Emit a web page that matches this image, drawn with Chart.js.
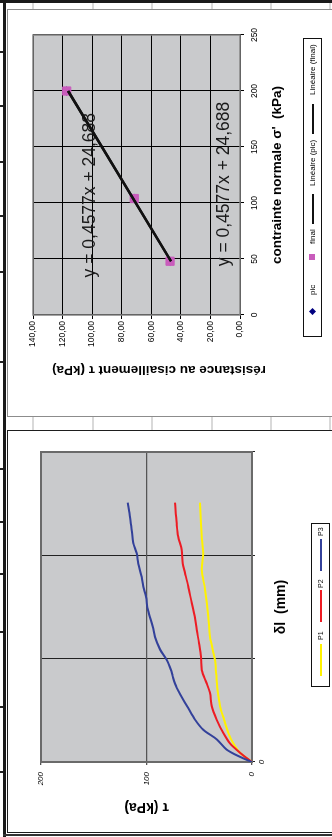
<!DOCTYPE html>
<html><head><meta charset="utf-8">
<script src="https://cdn.jsdelivr.net/npm/chart.js@4.4.1/dist/chart.umd.min.js"></script>
<style>
html,body{margin:0;padding:0;background:#fff;width:332px;height:837px;overflow:hidden;}
#rot{position:absolute;left:0;top:0;width:837px;height:332px;transform-origin:0 0;transform:translateY(837px) rotate(-90deg);font-family:"Liberation Sans",Arial,sans-serif;color:#000;}
.abs{position:absolute;box-sizing:border-box;}
.lg{position:absolute;white-space:nowrap;line-height:1;}
</style></head>
<body>
<div id="rot">
  <div class="abs" style="left:0;top:3px;width:837px;height:3px;background:#1a1a1a"></div>
  <div class="abs" style="left:834px;top:0;width:3px;height:332px;background:#1a1a1a"></div>
  <div class="abs" style="left:1px;top:3px;width:2px;height:332px;background:#333"></div>
  <div id="deco"></div>

  <div class="abs" style="left:4px;top:7px;width:403px;height:340px;border:1.5px solid #1e1e1e;background:#fff"></div>
  <canvas id="c2" width="403" height="325" style="position:absolute;left:4px;top:7px;"></canvas>

  <div class="abs" style="left:420px;top:7px;width:408px;height:340px;border:1.5px solid #8c8c8c;background:#fff"></div>
  <canvas id="c1" width="408" height="325" style="position:absolute;left:420px;top:7px;"></canvas>

  <div class="abs" id="leg1" style="left:500px;top:303px;width:299px;height:19px;border:1px solid #111;background:#fff;font-size:8px;">
    <div class="lg" style="left:22px;top:6px;width:5px;height:5px;background:#000080;transform:rotate(45deg)"></div>
    <div class="lg" style="left:41px;top:5px;">pic</div>
    <div class="lg" style="left:76px;top:5px;width:6px;height:6px;background:#c95cbc"></div>
    <div class="lg" style="left:92px;top:5px;">final</div>
    <div class="lg" style="left:112px;top:8px;width:30px;height:2px;background:#111"></div>
    <div class="lg" style="left:150px;top:5px;">Linéaire (pic)</div>
    <div class="lg" style="left:202px;top:8px;width:30px;height:2px;background:#111"></div>
    <div class="lg" style="left:241px;top:5px;">Linéaire (final)</div>
  </div>

  <div class="abs" id="leg2" style="left:150px;top:311px;width:164px;height:19px;border:1px solid #111;background:#fff;font-size:7px;">
    <div class="lg" style="left:10px;top:8px;width:32px;height:2px;background:#fff200"></div>
    <div class="lg" style="left:46px;top:5px;">P1</div>
    <div class="lg" style="left:64px;top:8px;width:32px;height:2px;background:#ed1c24"></div>
    <div class="lg" style="left:98px;top:5px;">P2</div>
    <div class="lg" style="left:115px;top:8px;width:32px;height:2px;background:#33419a"></div>
    <div class="lg" style="left:150px;top:5px;">P3</div>
  </div>
</div>
<script>
// ---------- DATA: chart 1 (shear strength vs normal stress) ----------
const sigmaPic   = [48, 104, 200];
const tauPic     = [47.3, 71.5, 117.2];
const sigmaFinal = [48, 104, 200];
const tauFinal   = [47.3, 71.5, 117.2];
const trendSigma    = [48, 200];
const trendTauPic   = [46.7, 116.2];
const trendTauFinal = [46.7, 116.2];
const equationPic   = 'y = 0,4577x + 24,688';
const equationFinal = 'y = 0,4577x + 24,688';
const tauTicks1  = ['0,00','20,00','40,00','60,00','80,00','100,00','120,00','140,00'];
const sigmaTicks = ['0','50','100','150','200','250'];

// ---------- DATA: chart 2 (shear stress vs displacement) ----------
const dlP1  = [0, 0.09, 0.18, 0.28, 0.41, 0.54, 0.72, 0.85, 0.99, 1.21, 1.41, 1.67, 1.86, 2.02, 2.15, 2.30, 2.51];
const tauP1 = [0, 11.4, 17.7, 22.4, 26.5, 30.3, 33.0, 34.0, 35.1, 39.8, 41.4, 44.5, 47.7, 46.2, 47.5, 48.3, 49.3];
const dlP2  = [0, 0.09, 0.18, 0.28, 0.41, 0.54, 0.67, 0.76, 0.89, 1.02, 1.15, 1.28, 1.41, 1.54, 1.70, 1.83, 1.92, 2.05, 2.18, 2.31, 2.51];
const tauP2 = [0, 11.4, 20.9, 27.2, 33.5, 38.2, 39.8, 42.9, 47.7, 48.3, 50.2, 52.4, 54.3, 57.2, 60.4, 63.5, 65.7, 66.6, 69.9, 71.4, 73.0];
const dlP3  = [0, 0.05, 0.12, 0.22, 0.31, 0.41, 0.52, 0.63, 0.72, 0.83, 0.89, 0.99, 1.09, 1.21, 1.31, 1.47, 1.60, 1.70, 1.79, 1.92, 2.02, 2.12, 2.24, 2.37, 2.51];
const tauP3 = [0, 11.4, 24.0, 33.5, 46.0, 54.0, 60.4, 66.6, 71.4, 75.2, 76.8, 80.9, 87.2, 91.9, 94.1, 98.6, 100.5, 103.0, 104.5, 107.8, 109.3, 112.5, 114.0, 115.6, 117.8];
const tauTicks2 = ['0','100','200'];
const dlTicks   = ['0','','',''];

// ---------- helpers ----------
const pts = (xs, ys) => xs.map((x, i) => ({x, y: ys[i]}));
Chart.defaults.font.family = '"Liberation Sans", Arial, sans-serif';
Chart.defaults.color = '#000';

// decorative page frame (document cell lines)
(function(){
  const deco = document.getElementById('deco');
  const ticks = [784,730,674,620,564,474,367,314,262,204,129,64];
  ticks.forEach(x => { const d = document.createElement('div'); d.className='abs';
    d.style.cssText += `left:${x}px;top:0;width:1.5px;height:3px;background:#222`; deco.appendChild(d); });
  [33,93,152,212,271,330].forEach(y => {
    [[407,13],[828,6]].forEach(([l,w]) => { const d = document.createElement('div'); d.className='abs';
      d.style.cssText += `left:${l}px;top:${y-1}px;width:${w}px;height:2px;background:#d9d9d9`; deco.appendChild(d); });
  });
})();

const framePlugin = {
  id: 'plotFrame',
  beforeDraw(chart, args, opts) {
    const {ctx, chartArea: a} = chart;
    ctx.save(); ctx.fillStyle = opts.bg; ctx.fillRect(a.left, a.top, a.width, a.height); ctx.restore();
  },
  beforeDatasetsDraw(chart, args, opts) {
    const {ctx, chartArea: a} = chart;
    ctx.save(); ctx.strokeStyle = opts.color; ctx.lineWidth = opts.width;
    ctx.strokeRect(a.left, a.top, a.width, a.height); ctx.restore();
  }
};

const eqLabels  = [equationPic, equationFinal];
const eqAnchors = [{x: 107, y: 101.5}, {x: 117, y: 11}];
const equationPlugin = {
  id: 'equations',
  beforeDatasetsDraw(chart) {
    const {ctx, scales: {x, y}} = chart;
    ctx.save();
    ctx.font = '17.5px "Liberation Sans", Arial, sans-serif';
    ctx.fillStyle = '#1a1a1a'; ctx.textAlign = 'center'; ctx.textBaseline = 'middle';
    eqLabels.forEach((t, i) => ctx.fillText(t, x.getPixelForValue(eqAnchors[i].x), y.getPixelForValue(eqAnchors[i].y)));
    ctx.restore();
  }
};

// ---------- chart 1 ----------
new Chart(document.getElementById('c1'), {
  type: 'scatter',
  data: { datasets: [
    { label: 'pic', data: pts(sigmaPic, tauPic), pointStyle: 'rectRot', pointRadius: 4,
      backgroundColor: '#000080', borderColor: '#000080', order: 3 },
    { label: 'final', data: pts(sigmaFinal, tauFinal), pointStyle: 'rect', pointRadius: 5.8,
      backgroundColor: '#c95cbc', borderColor: '#c95cbc', order: 2 },
    { label: 'Linéaire (pic)', data: pts(trendSigma, trendTauPic), showLine: true, pointRadius: 0,
      borderColor: '#111', borderWidth: 2.5, order: 1 },
    { label: 'Linéaire (final)', data: pts(trendSigma, trendTauFinal), showLine: true, pointRadius: 0,
      borderColor: '#111', borderWidth: 2.5, order: 0 }
  ]},
  options: {
    responsive: false, animation: false, devicePixelRatio: 1, events: [],
    layout: { padding: { left: 39, right: 26, top: 26, bottom: 47 } },
    plugins: { legend: { display: false }, tooltip: { enabled: false },
      plotFrame: { bg: '#c9cacc', color: '#858585', width: 1.5 } },
    scales: {
      x: { type: 'linear', min: 0, max: 250,
        afterFit: s => { s.height = 45; },
        ticks: { stepSize: 50, padding: 6, font: { size: 8.5 }, color: '#000', maxRotation: 0,
          callback: (v, i) => sigmaTicks[i] },
        grid: { color: '#000', lineWidth: 1, tickLength: 4 },
        border: { display: false },
        title: { display: true, text: "contrainte normale σ'  (kPa)", padding: 0,
          font: { size: 13.5, weight: 'bold' }, color: '#000' } },
      y: { type: 'linear', min: 0, max: 140,
        afterFit: s => { s.width = 63; },
        ticks: { stepSize: 20, padding: 2, font: { size: 8.5 }, color: '#000',
          callback: (v, i) => tauTicks1[i] },
        grid: { color: '#000', lineWidth: 1, tickLength: 4 },
        border: { display: false },
        title: { display: true, text: 'résistance au cisaillement τ (kPa)\u00A0\u00A0\u00A0\u00A0\u00A0\u00A0\u00A0\u00A0\u00A0\u00A0\u00A0\u00A0', padding: 0,
          font: { size: 13.5, weight: 'bold' }, color: '#000' } }
    }
  },
  plugins: [framePlugin, equationPlugin]
});

// ---------- chart 2 ----------
new Chart(document.getElementById('c2'), {
  type: 'scatter',
  data: { datasets: [
    { label: 'P1', data: pts(dlP1, tauP1), showLine: true, pointRadius: 0, borderColor: '#fff200',
      borderWidth: 2, tension: 0.3, order: 2 },
    { label: 'P2', data: pts(dlP2, tauP2), showLine: true, pointRadius: 0, borderColor: '#ed1c24',
      borderWidth: 2, tension: 0.3, order: 1 },
    { label: 'P3', data: pts(dlP3, tauP3), showLine: true, pointRadius: 0, borderColor: '#33419a',
      borderWidth: 2, tension: 0.3, order: 0 }
  ]},
  options: {
    responsive: false, animation: false, devicePixelRatio: 1, events: [],
    layout: { padding: { left: 18, right: 22, top: 34, bottom: 42 } },
    plugins: { legend: { display: false }, tooltip: { enabled: false },
      plotFrame: { bg: '#c9cacc', color: '#6a6a6a', width: 2 } },
    scales: {
      x: { type: 'linear', min: 0, max: 3,
        afterFit: s => { s.height = 38; },
        ticks: { stepSize: 1, padding: 2, font: { size: 8, style: 'italic' }, color: '#000', maxRotation: 0,
          callback: (v, i) => dlTicks[i] },
        grid: { color: '#222', lineWidth: 1, tickLength: 3 },
        border: { display: false },
        title: { display: true, text: 'δl  (mm)', padding: 0,
          font: { size: 14, weight: 'bold' }, color: '#000' } },
      y: { type: 'linear', min: 0, max: 200,
        afterFit: s => { s.width = 53; },
        ticks: { stepSize: 100, padding: 7, font: { size: 8, style: 'italic' }, color: '#000',
          callback: (v, i) => tauTicks2[i] },
        grid: { color: '#555', lineWidth: 1.3, tickLength: 3 },
        border: { display: false },
        title: { display: true, text: 'τ (kPa)', padding: 0,
          font: { size: 14, weight: 'bold' }, color: '#000' } }
    }
  },
  plugins: [framePlugin]
});
</script>
</body></html>
